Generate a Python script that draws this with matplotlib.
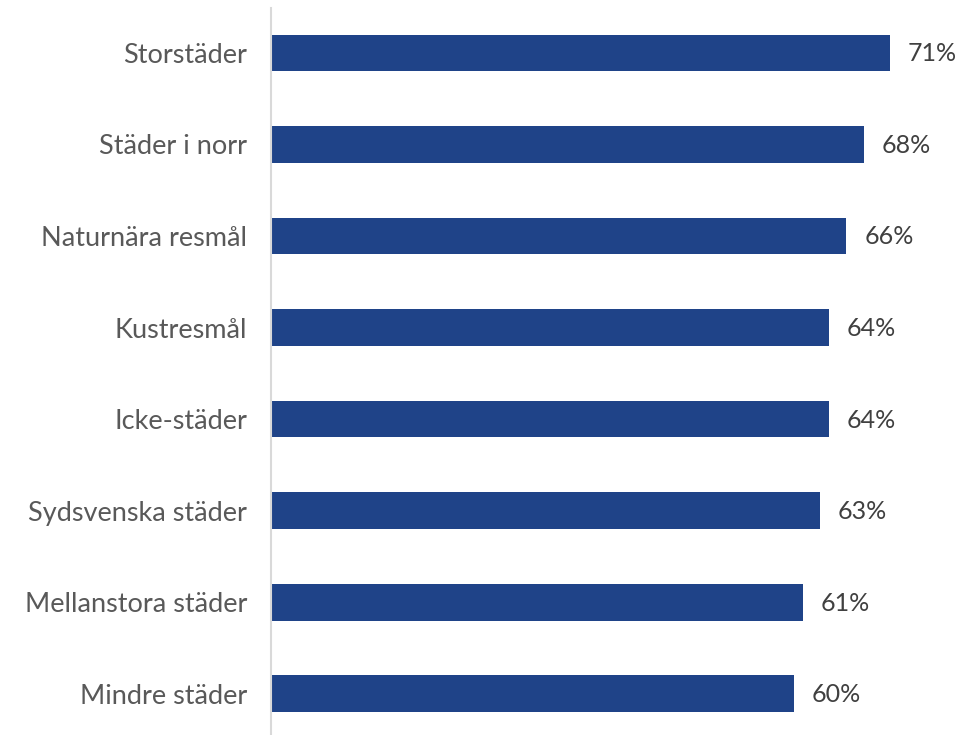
import matplotlib
matplotlib.use("Agg")
import matplotlib.pyplot as plt
from matplotlib.transforms import offset_copy

categories = [
    "Storstäder",
    "Städer i norr",
    "Naturnära resmål",
    "Kustresmål",
    "Icke-städer",
    "Sydsvenska städer",
    "Mellanstora städer",
    "Mindre städer",
]
values = [71, 68, 66, 64, 64, 63, 61, 60]

bar_color = "#1F4388"
label_color = "#595959"
value_color = "#404040"

plt.rcParams["font.family"] = ["Lato", "DejaVu Sans"]

fig = plt.figure(figsize=(9.63, 7.35), dpi=100)
ax = fig.add_axes([271 / 963, 0.0, 1 - 271 / 963, 1 - 8 / 735])

positions = list(range(len(categories)))
ax.barh(positions, values, height=0.40, color=bar_color, zorder=2)

ax.set_xlim(0, 79.4)
ax.set_ylim(7.45, -0.49)

ax.set_yticks(positions)
ax.set_yticklabels(categories, fontsize=19.5, color=label_color)
ax.tick_params(axis="y", length=0, pad=24 * 0.72)
ax.set_xticks([])

for side in ("top", "right", "bottom"):
    ax.spines[side].set_visible(False)
ax.spines["left"].set_color("#D9D9D9")
ax.spines["left"].set_linewidth(1.5)

trans = offset_copy(ax.transData, fig=fig, x=18 * 0.72, y=-1 * 0.72, units="points")
for y, v in zip(positions, values):
    ax.text(v, y, f"{v}%", transform=trans, va="center", ha="left",
            fontsize=18, color=value_color)

fig.savefig("out.png", dpi=100)
